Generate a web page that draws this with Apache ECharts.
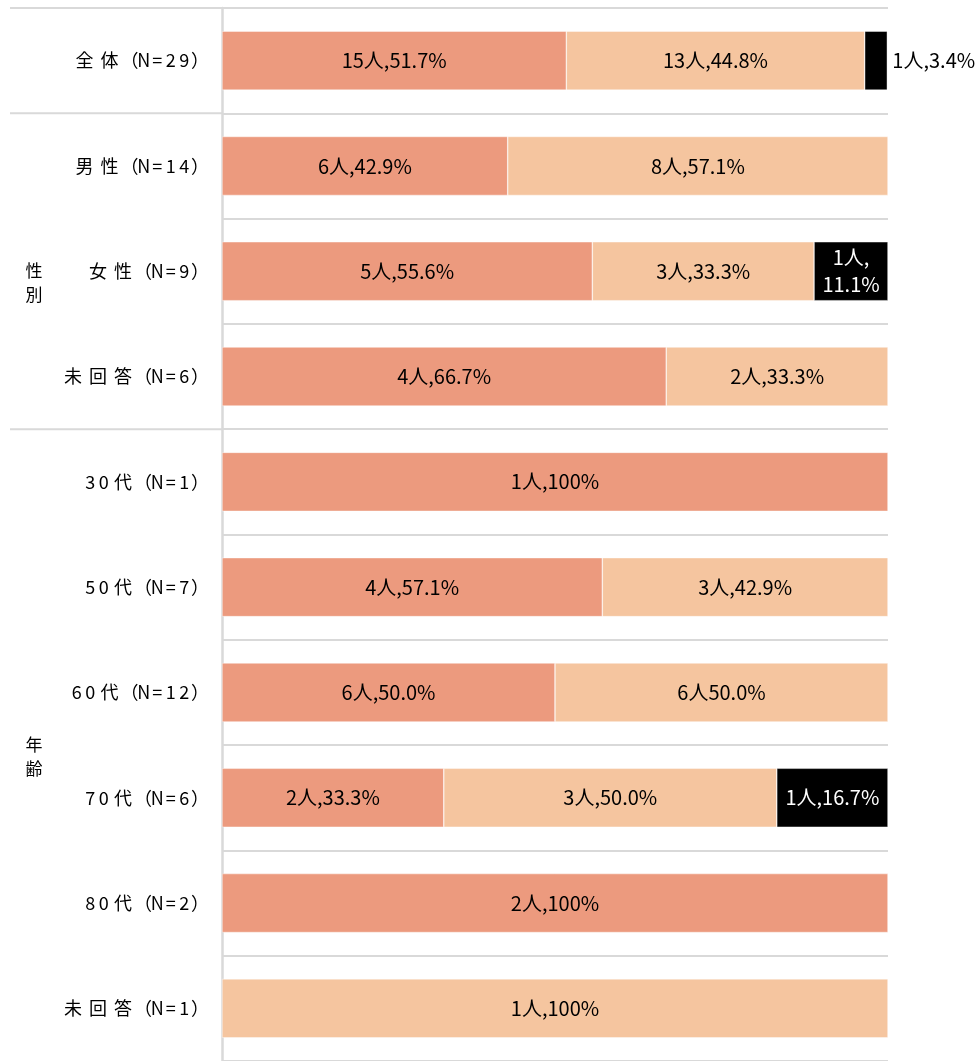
<!DOCTYPE html>
<html><head><meta charset="utf-8">
<script src="https://cdn.jsdelivr.net/npm/echarts@6/dist/echarts.min.js"></script>
<style>html,body{margin:0;padding:0;background:#fff}#c{width:976px;height:1061px}</style>
</head><body><div id="c"></div>
<script>
var categories = ['全体（N=29）','男性（N=14）','女性（N=9）','未回答（N=6）','30代（N=1）','50代（N=7）','60代（N=12）','70代（N=6）','80代（N=2）','未回答（N=1）'];
var groups = [ {name:'性\n別', from:1, to:3}, {name:'年\n齢', from:4, to:9} ];
var seriesA = [51.7, 42.9, 55.6, 66.7, 100, 57.1, 50.0, 33.3, 100, 0];
var seriesB = [44.8, 57.1, 33.3, 33.3, 0, 42.9, 50.0, 50.0, 0, 100];
var seriesC = [3.4, 0, 11.1, 0, 0, 0, 0, 16.7, 0, 0];
var labelsA = ['15人,51.7%','6人,42.9%','5人,55.6%','4人,66.7%','1人,100%','4人,57.1%','6人,50.0%','2人,33.3%','2人,100%',''];
var labelsB = ['13人,44.8%','8人,57.1%','3人,33.3%','2人,33.3%','','3人,42.9%','6人50.0%','3人,50.0%','','1人,100%'];
var labelsC = ['1人,3.4%','','1人,\n11.1%','','','','','1人,16.7%','',''];
var outsideC = [true,false,false,false,false,false,false,false,false,false];

var colors = ['#EC9A7E','#F5C59F','#000000'];
var LABEL_FONT = '"Noto Sans CJK JP",sans-serif';
var AXIS_FONT = '"Noto Sans CJK JP",sans-serif';

function build(vals, labels, outside) {
  return vals.map(function(v, i){
    var item = { value: v === 0 ? null : v, lbl: labels[i] };
    if (outside && outside[i]) {
      item.label = { position: 'right', color: '#000', distance: 5 };
    }
    return item;
  });
}
function mkSeries(name, vals, labels, color, textColor, outside) {
  return {
    name: name, type: 'bar', stack: 'total', barWidth: '56%',
    itemStyle: { color: color, borderColor: 'rgba(255,255,255,0.7)', borderWidth: 0.6 },
    label: {
      show: true, position: 'inside', color: textColor,
      fontFamily: LABEL_FONT, fontSize: 20, lineHeight: 27,
      formatter: function(p){ return p.data.lbl; }
    },
    data: build(vals, labels, outside)
  };
}

// spaced-out category labels (each character in its own box)
function tokenClass(ch) {
  if (ch === '（') return 'po';
  if (ch === '）') return 'pc';
  return ch.charCodeAt(0) < 0x80 ? 'h' : 'f';
}
function spaced(v) {
  return v.split('').map(function(ch){ return '{' + tokenClass(ch) + '|' + ch + '}'; }).join('');
}
var tok = function(w, al){ return { width: w, align: al || 'center', fontSize: 18, fontFamily: AXIS_FONT, color: '#000' }; };

var chart = echarts.init(document.getElementById('c'), null, {renderer:'canvas'});
var option = {
  animation: false,
  grid: { left: 222, right: 88, top: 8, bottom: -4, containLabel: false },
  xAxis: { type: 'value', min: 0, max: 100, show: false },
  yAxis: {
    type: 'category', inverse: true, data: categories,
    axisTick: { show: false },
    axisLine: { show: true, lineStyle: { color: '#d9d9d9', width: 2.5 } },
    splitLine: { show: true, lineStyle: { color: '#d9d9d9', width: 2 } },
    axisLabel: {
      color: '#000', fontFamily: AXIS_FONT, fontSize: 18, margin: 13,
      formatter: spaced,
      rich: { h: tok(13.5), f: tok(25), po: tok(15), pc: tok(18, 'right') }
    }
  },
  series: [
    mkSeries('A', seriesA, labelsA, colors[0], '#000'),
    mkSeries('B', seriesB, labelsB, colors[1], '#000'),
    mkSeries('C', seriesC, labelsC, colors[2], '#fff', outsideC)
  ]
};
chart.setOption(option);

// table-like left separators and group labels, positioned from the axis scale
var c0 = chart.convertToPixel({yAxisIndex:0}, 0);
var c1 = chart.convertToPixel({yAxisIndex:0}, 1);
var band = c1 - c0;
function edgeTop(i){ return chart.convertToPixel({yAxisIndex:0}, i) - band/2; }
function edgeBottom(i){ return chart.convertToPixel({yAxisIndex:0}, i) + band/2; }
var gx = chart.convertToPixel({xAxisIndex:0}, 0);
var elements = [];
var lineYs = [edgeTop(0)].concat(groups.map(function(g){ return edgeTop(g.from); }));
lineYs.forEach(function(y){
  elements.push({ type:'line', shape:{x1:10, y1:y, x2:gx, y2:y}, style:{stroke:'#d9d9d9', lineWidth:2} });
});
groups.forEach(function(g){
  var mid = (edgeTop(g.from) + Math.min(edgeBottom(g.to), 1061+4)) / 2;
  elements.push({ type:'text', x:34, y:mid - 13,
    style:{ text:g.name, fill:'#000', font:'17px "Noto Sans CJK JP"', align:'center', verticalAlign:'top', lineHeight:24 } });
});
chart.setOption({ graphic: elements });
</script>
</body></html>
